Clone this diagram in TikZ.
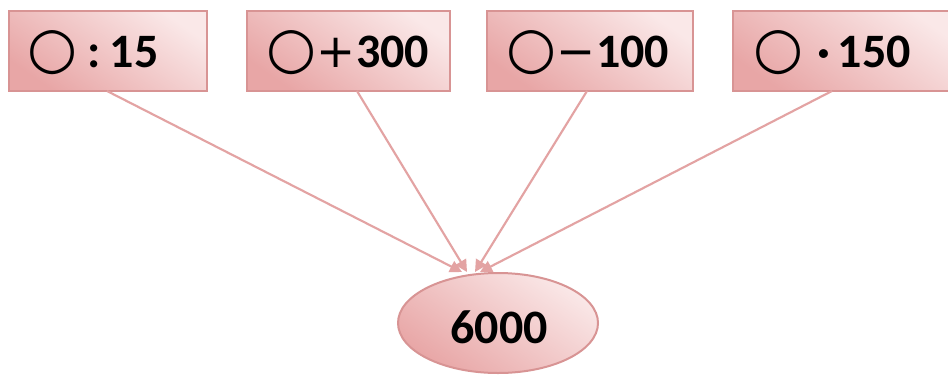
\documentclass[tikz,border=0pt]{standalone}
\usepackage{fontspec}
\setmainfont{Carlito}
\newfontfamily\symfont{DejaVu Sans}
\usetikzlibrary{arrows.meta,shapes.geometric}
\definecolor{boxdark}{HTML}{E8A6A6}
\definecolor{boxlight}{HTML}{FAE8E8}
\definecolor{boxline}{HTML}{D89494}
\definecolor{arrowcol}{HTML}{E3A3A3}
\newcommand{\circsym}{{\symfont\fontsize{43}{40}\selectfont ○}}
\newcommand{\plussym}{{\symfont\fontsize{35}{40}\selectfont +}}
\newcommand{\minussym}{{\symfont\fontsize{35}{40}\selectfont −}}
\tikzset{
  opbox/.style={draw=boxline, line width=1.5pt, rectangle, minimum height=60pt,
    shading=axis, top color=boxlight, bottom color=boxdark, shading angle=-35},
  optext/.style={font=\fontsize{36}{40}\selectfont, inner sep=0pt, anchor=base},
  resell/.style={draw=boxline, line width=1.5pt, ellipse, minimum width=150pt, minimum height=75pt,
    inner sep=0pt, shading=axis, top color=boxlight, bottom color=boxdark, shading angle=-35},
  link/.style={draw=arrowcol, line width=1.6pt, -{Triangle[length=9pt,width=9pt]}}
}
\begin{document}
\begin{tikzpicture}[x=0.75pt,y=-0.75pt]
\clip (0,0) rectangle (948,375);
\fill[white] (0,0) rectangle (948,375);
% boxes
\node[opbox, minimum width=148.5pt] (b1) at (107.5,50.5) {};
\node[opbox, minimum width=152pt] (b2) at (348.5,50.5) {};
\node[opbox, minimum width=154.5pt] (b3) at (590,50.5) {};
\node[opbox, minimum width=170pt] (b4) at (846,50.5) {};
% texts (baseline at y=67)
\node[optext] (t1) at (93,67) {\circsym\hspace{0.2em}\textbf{:}\hspace{0.2em}\textbf{15}};
\node[optext] (t2) at (348,67) {\circsym\plussym\textbf{300}};
\node[optext] (t3) at (588,67) {\circsym\minussym\textbf{100}};
\node[optext] (t4) at (832,67) {\circsym\hspace{0.3em}\textbf{·}\hspace{0.15em}\textbf{150}};
% result
\node[resell] (r) at (498,323) {};
\node[optext] (rt) at (499,343) {\textbf{6000}};
% connector ends
\coordinate (s1) at (107,91);
\coordinate (s2) at (357,91);
\coordinate (s3) at (587,91);
\coordinate (s4) at (832,91);
\coordinate (e1) at (462,272);
\coordinate (e2) at (467,272);
\coordinate (e3) at (475,272);
\coordinate (e4) at (480,272);
\draw[link] (s1) -- (e1);
\draw[link] (s2) -- (e2);
\draw[link] (s3) -- (e3);
\draw[link] (s4) -- (e4);
\end{tikzpicture}
\end{document}
